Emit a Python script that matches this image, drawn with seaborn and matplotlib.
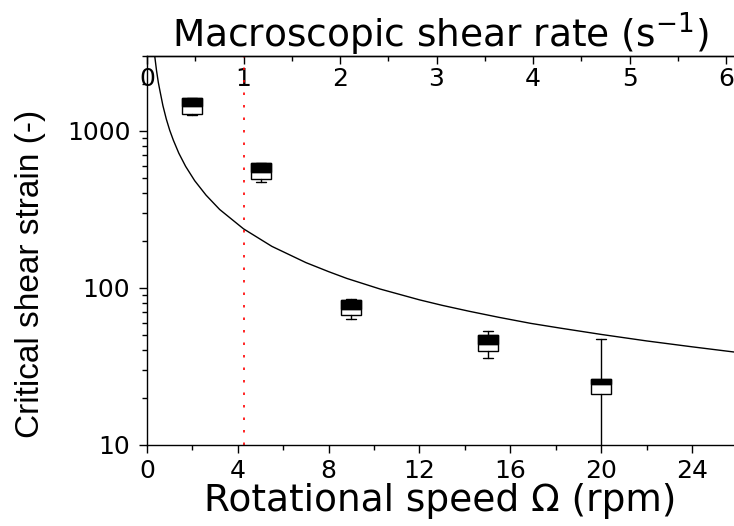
import seaborn as sns
import matplotlib.pyplot as plt
from matplotlib.ticker import MultipleLocator, LogLocator, NullFormatter, FixedLocator, FixedFormatter

# box statistics (critical shear strain, -)
speed = [2, 5, 9, 15, 20]          # rotational speed (rpm)
w_lo = [1260, 473, 63.7, 35.7, 9]
q1 = [1290, 496, 67.1, 39.7, 21.1]
med = [1435, 547, 73.7, 44.2, 24.4]
q3 = [1630, 621, 83.7, 50.1, 26.5]
w_hi = [1630, 627, 85.3, 53.2, 47.1]

# smooth curve
curve_speed = [0.34, 0.42, 0.5, 0.57, 0.7, 0.85, 1.0, 1.16, 1.4, 1.7, 2.1, 2.6, 3.2,
               4.25, 5.5, 7.0, 8.0, 8.8, 10.26, 12.0, 13.0, 14.2, 15.5, 16.9, 18.2, 20.0,
               22.0, 24.0, 25.85]
curve_strain = [3000, 2420, 2030, 1800, 1450, 1190, 1010, 873, 722, 595, 482, 390, 316,
                238, 184, 145, 127, 115, 98.5, 84, 77.5, 71, 65, 59.5, 55.5, 50.6,
                46, 42.2, 39.1]

RPM_PER_RATE = 4.25   # 1 s^-1 <-> 4.25 rpm
crit_speed = 4.25      # red dotted line

x_ticks = [0, 4, 8, 12, 16, 20, 24]
top_ticks = [0, 1, 2, 3, 4, 5, 6]
y_ticks = [10, 100, 1000]
y_labels = ['10', '100', '1000']

sns.set_theme(style='ticks')
plt.rcParams['font.family'] = ['DejaVu Sans']
plt.rcParams['axes.linewidth'] = 1.0

fig = plt.figure(figsize=(7.34, 5.26), dpi=100)
ax = fig.add_axes([147 / 734, 1 - 445 / 526, 1 - 147 / 734, (445 - 56) / 526])

stats = []
for i in range(len(speed)):
    stats.append(dict(med=med[i], q1=q1[i], q3=q3[i], whislo=w_lo[i], whishi=w_hi[i], fliers=[]))
ax.bxp(stats, positions=speed, widths=0.88, capwidths=0.44, showfliers=False, patch_artist=True,
       boxprops=dict(facecolor='white', edgecolor='black', linewidth=1.0),
       medianprops=dict(color='black', linewidth=1.0),
       whiskerprops=dict(color='black', linewidth=1.0),
       capprops=dict(color='black', linewidth=1.0), manage_ticks=False)
# upper half of each box filled black
ax.bar(speed, [q3[i] - med[i] for i in range(len(speed))], bottom=med, width=0.88,
       color='black', edgecolor='black', linewidth=1.0, zorder=3)

sns.lineplot(x=curve_speed, y=curve_strain, color='black', linewidth=1.0, ax=ax, sort=False)
ax.axvline(crit_speed, color='red', linestyle=(0, (1.5, 6)), linewidth=1.2)

ax.set_yscale('log')
ax.set_xlim(0, 25.85)
ax.set_ylim(10, 3000)

ax.xaxis.set_major_locator(FixedLocator(x_ticks))
ax.xaxis.set_minor_locator(MultipleLocator(2))
ax.yaxis.set_major_locator(FixedLocator(y_ticks))
ax.yaxis.set_major_formatter(FixedFormatter(y_labels))
ax.yaxis.set_minor_locator(LogLocator(base=10, subs=range(2, 10)))
ax.yaxis.set_minor_formatter(NullFormatter())
ax.tick_params(axis='both', which='major', direction='out', length=6, width=1.0,
               labelsize=18, color='black', labelcolor='black')
ax.tick_params(axis='both', which='minor', direction='out', length=3.5, width=1.0, color='black')
ax.tick_params(axis='x', pad=4)
ax.tick_params(axis='y', pad=6)
ax.spines['right'].set_visible(False)
for s in ['left', 'bottom', 'top']:
    ax.spines[s].set_color('black')

ax.set_xlabel('Rotational speed \u03a9 (rpm)', fontsize=27, color='black', labelpad=0)
ax.set_ylabel('Critical shear strain (-)', fontsize=24, color='black', family='Liberation Sans')
ax.yaxis.set_label_coords(-0.172, 0.44)

sec = ax.secondary_xaxis('top', functions=(lambda x: x / RPM_PER_RATE, lambda x: x * RPM_PER_RATE))
sec.xaxis.set_major_locator(FixedLocator(top_ticks))
sec.xaxis.set_minor_locator(MultipleLocator(0.5))
sec.tick_params(axis='x', which='major', direction='in', length=6, width=1.0, pad=-25,
                labelsize=18, color='black', labelcolor='black')
sec.tick_params(axis='x', which='minor', direction='in', length=3.5, width=1.0, color='black')
sec.set_xlabel('Macroscopic shear rate (s$^{-1}$)', fontsize=27, color='black', labelpad=3)

fig.savefig('out.png', dpi=100)
